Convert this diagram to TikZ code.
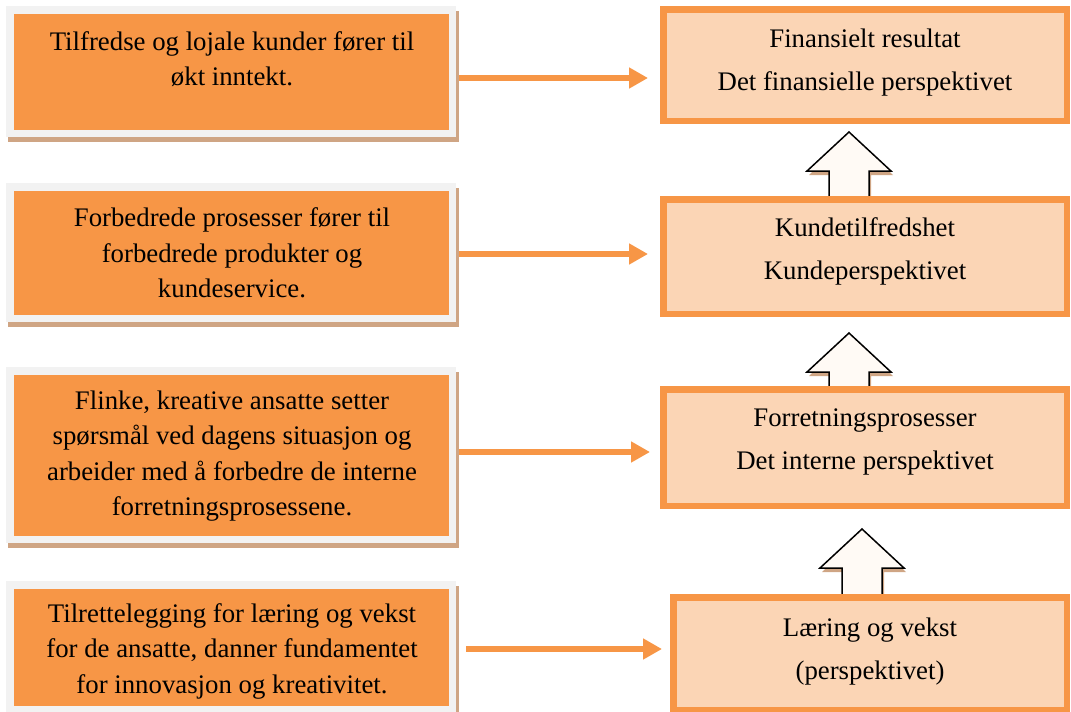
\documentclass[tikz,border=0pt]{standalone}
\usepackage{fontspec}
\setmainfont{Liberation Serif}
\usetikzlibrary{calc,arrows.meta,backgrounds}
\definecolor{orangefill}{HTML}{F79646}
\definecolor{peach}{HTML}{FBD5B5}
\definecolor{framegrey}{HTML}{F2F2F2}
\definecolor{shadowtan}{HTML}{CFA584}
\definecolor{arrowfill}{HTML}{FFFAF5}

\begin{document}
\begin{tikzpicture}[x=1pt,y=-1pt,
  causebox/.style={rectangle, fill=orangefill, draw=framegrey, line width=7.5pt, inner sep=0pt, minimum width=442.5pt},
  goalbox/.style={rectangle, fill=peach, draw=orangefill, line width=6.5pt, inner sep=0pt},
  lefttext/.style={align=center, font=\fontsize{26.8}{35.5}\selectfont, inner sep=0pt},
  righttext/.style={align=center, font=\fontsize{26.8}{43}\selectfont, inner sep=0pt},
  link/.style={draw=orangefill, line width=6.5pt, -{Triangle[length=19pt,width=20pt]}},
  blockarrow/.style={draw=black, line width=1.5pt, fill=arrowfill, line join=miter},
  blockshadow/.style={fill=shadowtan}]

\useasboundingbox (0,0) rectangle (1071,712);

% cause boxes on the left
\node[causebox, minimum height=123.5pt] (L1) at (231,71.5) {};
\node[causebox, minimum height=131.5pt] (L2) at (231,252.5) {};
\node[causebox, minimum height=168.5pt] (L3) at (231,455) {};
\node[causebox, minimum height=124.5pt] (L4) at (231,647) {};

\node[lefttext] (T1) at (232,59) {Tilfredse og lojale kunder fører til\\økt inntekt.};
\node[lefttext] (T2) at (232,253) {Forbedrede prosesser fører til\\forbedrede produkter og\\kundeservice.};
\node[lefttext] (T3) at (232,456) {Flinke, kreative ansatte setter\\spørsmål ved dagens situasjon og\\arbeider med å forbedre de interne\\forretningsprosessene.};
\node[lefttext] (T4) at (232,651) {Tilrettelegging for læring og vekst\\for de ansatte, danner fundamentet\\for innovasjon og kreativitet.};

% perspective boxes on the right
\node[goalbox, minimum width=403.5pt, minimum height=111.5pt] (R1) at (865,65) {};
\node[goalbox, minimum width=403.5pt, minimum height=114.5pt] (R2) at (865,256.5) {};
\node[goalbox, minimum width=403.5pt, minimum height=116.5pt] (R3) at (865,447.5) {};
\node[goalbox, minimum width=393.5pt, minimum height=112.5pt] (R4) at (870,653.5) {};

\node[righttext] (P1) at (865,63) {Finansielt resultat\\Det finansielle perspektivet};
\node[righttext] (P2) at (865,251) {Kundetilfredshet\\Kundeperspektivet};
\node[righttext] (P3) at (865,442) {Forretningsprosesser\\Det interne perspektivet};
\node[righttext] (P4) at (870,651.5) {Læring og vekst\\(perspektivet)};

% shadows and block arrows behind the boxes
\begin{scope}[on background layer]
  \foreach \b in {L1,L2,L3,L4}{
    \fill[shadowtan] ($(\b.north west)+(2,5)$) rectangle ($(\b.south east)+(3,5)$);
  }
  % upward block arrows: tip, head height 39, half widths 42 / 20
  \foreach \tx/\ty/\sh in {849/132/27, 849/333/17, 862/529/29}{
    \path[blockshadow] (\tx+2,\ty+4) -- ++(42,39) -- ++(-22,0) -- ++(0,\sh) -- ++(-40,0) -- ++(0,-\sh) -- ++(-22,0) -- cycle;
    \path[blockarrow] (\tx,\ty) -- ++(42,39) -- ++(-22,0) -- ++(0,\sh) -- ++(-40,0) -- ++(0,-\sh) -- ++(-22,0) -- cycle;
  }
\end{scope}

% horizontal links from causes to perspectives
\coordinate (y1) at (0,78);
\coordinate (y2) at (0,254);
\coordinate (y3) at (0,452);
\coordinate (y4) at (0,649);
\draw[link, shorten >=12pt] ($(L1.east |- y1)+(3,0)$) -- (R1.west |- y1);
\draw[link, shorten >=12pt] ($(L2.east |- y2)+(3,0)$) -- (R2.west |- y2);
\draw[link, shorten >=10pt] ($(L3.east |- y3)+(3,0)$) -- (R3.west |- y3);
\draw[link, shorten >=8pt] ($(L4.east |- y4)+(10,0)$) -- (R4.west |- y4);
\end{tikzpicture}
\end{document}
